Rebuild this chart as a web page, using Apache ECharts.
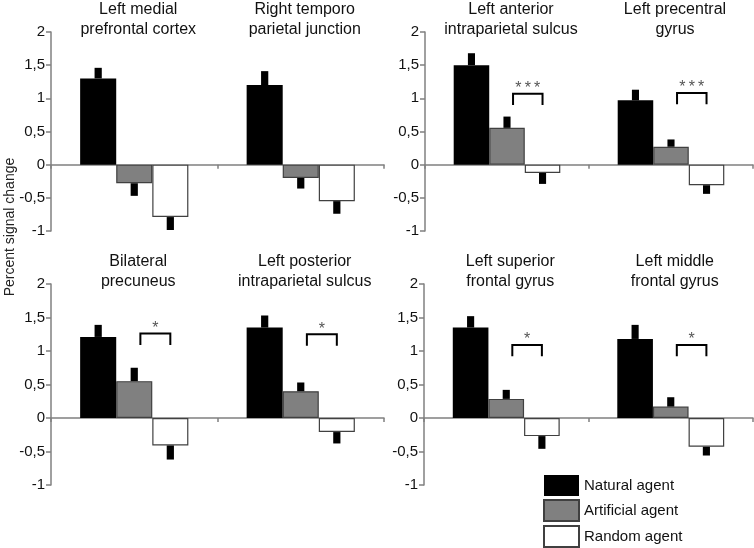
<!DOCTYPE html>
<html>
<head>
<meta charset="utf-8">
<script src="https://cdn.jsdelivr.net/npm/echarts@6/dist/echarts.min.js"></script>
<style>
  html, body { margin: 0; padding: 0; background: #fff; }
  #chart { width: 754px; height: 548px; }
</style>
</head>
<body>
<div id="chart"></div>
<script>
// regions, two per panel group
var regions = [
  'Left medial\nprefrontal cortex', 'Right temporo\nparietal junction',
  'Left anterior\nintraparietal sulcus', 'Left precentral\ngyrus',
  'Bilateral\nprecuneus', 'Left posterior\nintraparietal sulcus',
  'Left superior\nfrontal gyrus', 'Left middle\nfrontal gyrus'
];
var agents = ['Natural agent', 'Artificial agent', 'Random agent'];

// percent signal change
var natural    = [1.30, 1.20, 1.50, 0.97, 1.21, 1.35, 1.35, 1.18];
var artificial = [-0.28, -0.20, 0.555, 0.27, 0.55, 0.40, 0.285, 0.17];
var random     = [-0.79, -0.55, -0.125, -0.31, -0.41, -0.21, -0.27, -0.43];

// error bar sizes (drawn away from zero)
var naturalErr    = [0.16, 0.21, 0.18, 0.16, 0.18, 0.18, 0.17, 0.21];
var artificialErr = [0.19, 0.16, 0.17, 0.11, 0.20, 0.13, 0.135, 0.14];
var randomErr     = [0.195, 0.19, 0.165, 0.13, 0.21, 0.17, 0.19, 0.13];

// significance artificial vs random
var stars      = ['', '', '***', '***', '*', '*', '*', '*'];
var bracketTop = [null, null, 1.07, 1.08, 1.26, 1.25, 1.09, 1.09];
var bracketLeg = 0.17;

var yTicks = { min: -1, max: 2, interval: 0.5 };

var FONT = '"Liberation Sans", Arial, sans-serif';
var values = [natural, artificial, random];
var errs = [naturalErr, artificialErr, randomErr];
var colors = [
  { color: '#000000', borderColor: '#000000', borderWidth: 0 },
  { color: '#808080', borderColor: '#404040', borderWidth: 1.2 },
  { color: '#ffffff', borderColor: '#404040', borderWidth: 1.2 }
];
var GAP = 0.35;

var grids = [
  { left: 51, top: 29, width: 333, height: 202 },
  { left: 425, top: 29, width: 328, height: 202 },
  { left: 51, top: 284, width: 333, height: 201 },
  { left: 424, top: 284, width: 329, height: 201 }
];

var xAxes = [], yAxes = [], series = [];

grids.forEach(function (g, gi) {
  var cats = [regions[gi * 2], regions[gi * 2 + 1]];
  xAxes.push({
    type: 'category', gridIndex: gi, data: cats,
    axisLine: { onZero: true, lineStyle: { color: '#808080', width: 1.5 } },
    axisTick: { show: true, length: 4, lineStyle: { color: '#808080', width: 1.5 } },
    axisLabel: { show: false }
  });
  xAxes.push({
    type: 'category', gridIndex: gi, data: cats, position: 'top',
    axisLine: { show: false }, axisTick: { show: false },
    axisLabel: {
      interval: 0, margin: -8, fontSize: 16, lineHeight: 20,
      color: '#111', fontFamily: FONT, padding: [0, 0, 0, 8]
    }
  });
  yAxes.push({
    type: 'value', gridIndex: gi,
    min: yTicks.min, max: yTicks.max, interval: yTicks.interval,
    splitLine: { show: false },
    axisLine: { show: true, lineStyle: { color: '#808080', width: 1.5 } },
    axisTick: { show: true, length: 5, lineStyle: { color: '#808080', width: 1.5 } },
    axisLabel: {
      fontSize: 15, color: '#111', fontFamily: FONT, margin: 6,
      formatter: function (v) { return String(v).replace('.', ','); }
    }
  });

  agents.forEach(function (name, k) {
    series.push({
      name: name, type: 'bar', xAxisIndex: gi * 2, yAxisIndex: gi,
      data: [values[k][gi * 2], values[k][gi * 2 + 1]],
      barGap: '0%', barCategoryGap: (GAP * 100) + '%',
      itemStyle: colors[k], silent: true
    });
  });

  // error bars
  var errData = [];
  for (var c = 0; c < 2; c++) {
    for (var k = 0; k < 3; k++) {
      errData.push([c, values[k][gi * 2 + c], errs[k][gi * 2 + c], k]);
    }
  }
  series.push({
    type: 'custom', name: 'err' + gi, xAxisIndex: gi * 2, yAxisIndex: gi, z: 5,
    data: errData, encode: { x: 0, y: 1 }, silent: true,
    renderItem: function (params, api) {
      var v = api.value(1), e = api.value(2), k = api.value(3);
      var sign = v >= 0 ? 1 : -1;
      var p0 = api.coord([api.value(0), v]);
      var p1 = api.coord([api.value(0), v + sign * e]);
      var band = api.size([1, 0])[0];
      var bw = band * (1 - GAP) / 3;
      var cx = p0[0] + (k - 1) * bw;
      var w = bw * 0.2;
      return {
        type: 'rect',
        shape: { x: cx - w / 2, y: Math.min(p0[1], p1[1]), width: w, height: Math.abs(p1[1] - p0[1]) },
        style: { fill: '#000' }
      };
    }
  });

  // significance brackets
  var brData = [];
  for (var c2 = 0; c2 < 2; c2++) {
    var idx = gi * 2 + c2;
    if (bracketTop[idx] != null) brData.push([c2, bracketTop[idx], bracketTop[idx] - bracketLeg, idx]);
  }
  if (brData.length) {
    series.push({
      type: 'custom', name: 'sig' + gi, xAxisIndex: gi * 2, yAxisIndex: gi, z: 6,
      data: brData, encode: { x: 0, y: 1 }, silent: true,
      renderItem: function (params, api) {
        var top = api.coord([api.value(0), api.value(1)]);
        var leg = api.coord([api.value(0), api.value(2)]);
        var band = api.size([1, 0])[0];
        var bw = band * (1 - GAP) / 3;
        var x1 = top[0] + 0.17 * bw;
        var x2 = top[0] + bw;
        return {
          type: 'group',
          children: [
            {
              type: 'polyline',
              shape: { points: [[x1, leg[1]], [x1, top[1]], [x2, top[1]], [x2, leg[1]]] },
              style: { stroke: '#000', lineWidth: 2, fill: null }
            },
            {
              type: 'text',
              style: {
                text: stars[api.value(3)].split('').join('\u2009'),
                x: (x1 + x2) / 2, y: top[1] + 3,
                align: 'center', verticalAlign: 'bottom',
                font: '16px ' + FONT, fill: '#555'
              }
            }
          ]
        };
      }
    });
  }
});

var chart = echarts.init(document.getElementById('chart'));
chart.setOption({
  animation: false,
  backgroundColor: '#fff',
  grid: grids,
  xAxis: xAxes,
  yAxis: yAxes,
  legend: {
    data: agents, orient: 'vertical', left: 543, top: 475, height: 90, padding: 0,
    icon: 'rect', itemWidth: 35, itemHeight: 21, itemGap: 3,
    textStyle: { fontSize: 15, color: '#111', fontFamily: FONT },
    selectedMode: false
  },
  graphic: [{
    type: 'text', x: 10, y: 227, rotation: Math.PI / 2,
    style: {
      text: 'Percent signal change', align: 'center', verticalAlign: 'middle',
      font: '14px ' + FONT, fill: '#222'
    }
  }],
  series: series
});
</script>
</body>
</html>
